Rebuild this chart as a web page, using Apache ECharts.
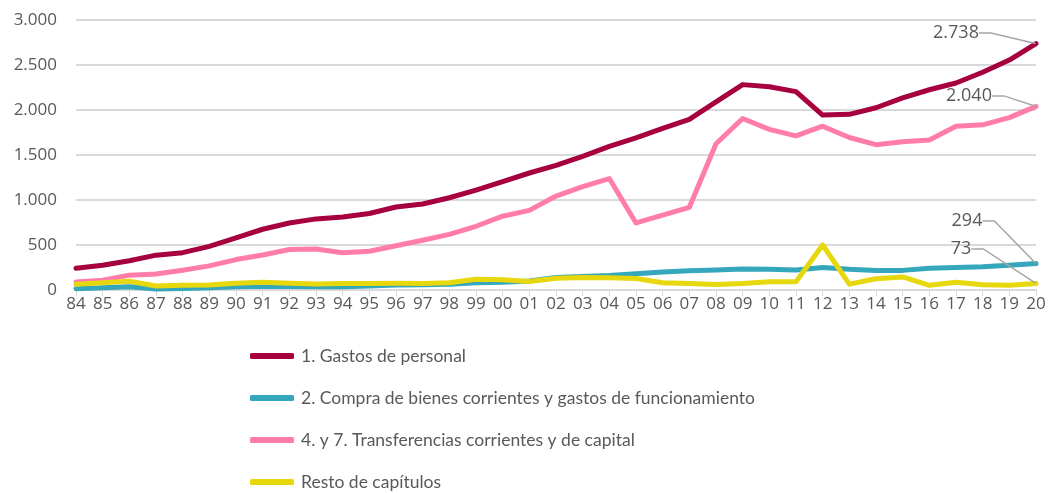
<!DOCTYPE html>
<html lang="es">
<head>
    <meta charset="UTF-8">
    <title>Gastos</title>
    <script type="text/javascript" src="https://cdn.jsdelivr.net/npm/echarts@6/dist/echarts.min.js"></script>
</head>
<body style="margin:0">
<div id="main" style="width:1051px;height:493px"></div>
<script type="text/javascript">
    var years = ['84','85','86','87','88','89','90','91','92','93','94','95','96','97','98','99',
        '00','01','02','03','04','05','06','07','08','09','10','11','12','13','14','15','16','17','18','19','20'];

    var personal = [241,275,325,387,415,485,580,675,745,790,812,850,922,955,1025,1110,
        1205,1300,1385,1485,1595,1690,1795,1895,2090,2282,2259,2204,1944,1952,2025,2135,2225,2300,2420,2555,2738];

    var compra = [15,25,35,12,18,25,35,42,40,35,35,45,55,58,65,80,
        85,100,140,150,160,180,200,215,222,233,230,222,250,230,218,218,241,250,259,275,294];

    var transferencias = [90,108,165,178,220,268,338,389,450,456,415,430,492,552,618,708,
        820,885,1044,1148,1238,745,833,919,1625,1905,1785,1712,1820,1694,1615,1648,1667,1820,1835,1915,2040];

    var resto = [63,80,98,44,52,56,74,85,76,68,72,72,75,72,80,120,
        115,95,130,140,135,128,81,72,60,72,92,92,500,65,125,145,52,85,58,52,73];

    var names = ['1. Gastos de personal',
        '2. Compra de bienes corrientes y gastos de funcionamiento',
        '4. y 7. Transferencias corrientes y de capital',
        'Resto de capítulos'];
    var colors = ['#A6003F', '#35A7BC', '#FF7CAB', '#E6D80C'];
    // desplazamiento de la etiqueta final de cada serie
    var offsets = [[-80, 4], [-69, -28], [-67, 4], [-75, -20]];

    var fmt = function (v) {
        return String(v).replace(/\B(?=(\d{3})+(?!\d))/g, '.');
    };

    var font = '"Open Sans", sans-serif';
    var grey = '#595959';

    function buildSeries(i, values) {
        var data = values.map(function (v, k) {
            if (k === values.length - 1) {
                return {
                    value: v,
                    symbol: 'circle',
                    symbolSize: 1,
                    label: {show: true}
                };
            }
            return {value: v, symbol: 'none'};
        });
        return {
            name: names[i],
            type: 'line',
            data: data,
            showSymbol: true,
            showAllSymbol: true,
            lineStyle: {width: 5, color: colors[i], cap: 'round', join: 'round'},
            itemStyle: {color: colors[i]},
            label: {
                show: false,
                position: 'top',
                color: grey,
                fontFamily: font,
                fontSize: 18,
                padding: [0, 4],
                formatter: function (p) { return fmt(p.value); }
            },
            labelLayout: {dx: offsets[i][0], dy: offsets[i][1]},
            labelLine: {show: true, length2: 12, lineStyle: {color: '#A6A6A6', width: 1.5}},
            emphasis: {disabled: true},
            animation: false
        };
    }

    var chartDom = document.getElementById('main');
    var myChart = echarts.init(chartDom);

    var option = {
        color: colors,
        animation: false,
        grid: {left: 76, right: 15, top: 20, bottom: 203},
        legend: {
            orient: 'vertical',
            left: 250,
            top: 347,
            padding: 0,
            itemWidth: 44,
            itemHeight: 6,
            itemGap: 24,
            icon: 'roundRect',
            textStyle: {color: grey, fontFamily: 'Lato, sans-serif', fontSize: 17.5, padding: [0, 0, 0, 2]},
            data: names
        },
        xAxis: {
            type: 'category',
            data: years,
            boundaryGap: false,
            axisLine: {lineStyle: {color: '#D9D9D9', width: 2}},
            axisTick: {show: true, length: 6, lineStyle: {color: '#D9D9D9'}},
            axisLabel: {color: grey, fontFamily: font, fontSize: 17, margin: 6, interval: 0}
        },
        yAxis: {
            type: 'value',
            min: 0,
            max: 3000,
            interval: 500,
            axisLine: {show: false},
            axisTick: {show: false},
            splitLine: {lineStyle: {color: '#D9D9D9', width: 2}},
            axisLabel: {color: grey, fontFamily: font, fontSize: 17, margin: 19, formatter: fmt}
        },
        series: [
            buildSeries(0, personal),
            buildSeries(1, compra),
            buildSeries(2, transferencias),
            buildSeries(3, resto)
        ]
    };

    option && myChart.setOption(option);
</script>
</body>
</html>
